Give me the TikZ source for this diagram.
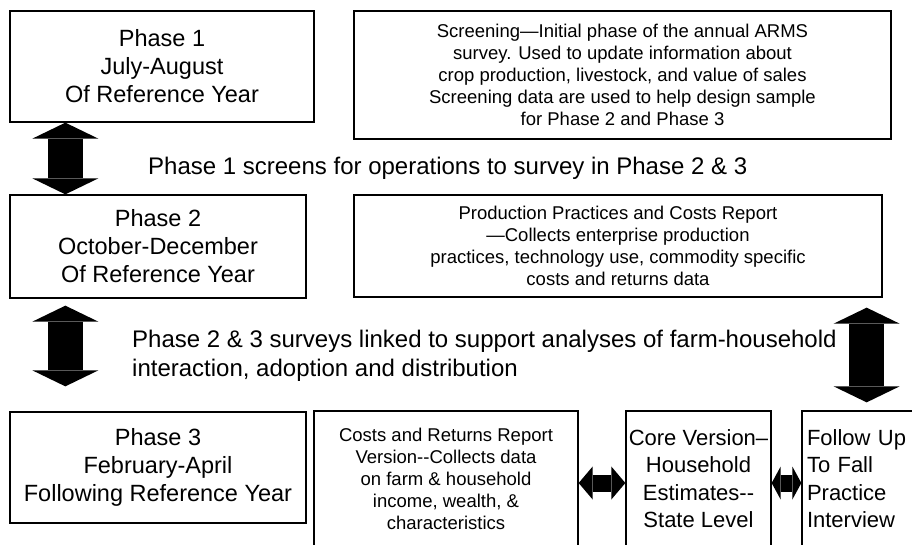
\documentclass[tikz,border=0pt]{standalone}
\usepackage{fontspec}
\setmainfont{Liberation Sans}
\usetikzlibrary{arrows.meta,calc}
\begin{document}
\begin{tikzpicture}[x=1pt,y=-1pt,
    phasebox/.style={draw,line width=1.3pt,align=center,inner sep=0pt,font=\fontsize{23.5}{28}\selectfont},
    notebox/.style={draw,line width=1.3pt,align=center,inner sep=0pt,font=\fontsize{18.5}{22}\selectfont},
    bigbox/.style={draw,line width=1.3pt,inner sep=0pt,font=\fontsize{22}{27.5}\selectfont},
    caption/.style={anchor=west,align=left,inner sep=0pt,font=\fontsize{24}{29}\selectfont},
    vlink/.style={line width=35pt,{Triangle[length=16pt,width=66pt,line width=0pt]}-{Triangle[length=16pt,width=66pt,line width=0pt]}},
    hlink/.style={line width=17pt,{Triangle[length=#1,width=33pt,line width=0pt]}-{Triangle[length=#1,width=33pt,line width=0pt]}},
  ]
  \clip (0,0) rectangle (912,544);
  \node[phasebox,minimum width=304pt,minimum height=111pt] (P1) at (162,66.5) {Phase 1\\July-August\\Of Reference Year};
  \node[notebox,minimum width=537pt,minimum height=128pt] (SC) at (622.5,75) {Screening—Initial phase of the annual ARMS\\survey. Used to update information about\\crop production, livestock, and value of sales\\Screening data are used to help design sample\\for Phase 2 and Phase 3};
  \node[phasebox,minimum width=296pt,minimum height=103pt] (P2) at (158,246.5) {Phase 2\\October-December\\Of Reference Year};
  \node[notebox,minimum width=528pt,minimum height=102pt] (PPC) at (618,246) {Production Practices and Costs Report\\—Collects enterprise production\\practices, technology use, commodity specific\\costs and returns data};
  \node[phasebox,minimum width=296pt,minimum height=111pt] (P3) at (158,467.5) {Phase 3\\February-April\\Following Reference Year};
  \node[notebox,minimum width=264pt,minimum height=135pt] (CR) at (446,478.5) {Costs and Returns Report\\Version-{}-Collects data\\on farm \& household\\income, wealth, \&\\characteristics};
  \node[bigbox,align=center,minimum width=145pt,minimum height=135pt] (CV) at (698.5,478.5) {Core Version–\\Household\\Estimates-{}-\\State Level};
  \node[bigbox,align=left,inner xsep=5pt,text width=130pt,minimum height=135pt] (FU) at (872,478.5) {Follow Up\\To Fall\\Practice\\Interview};
  \node[caption] (T1) at (148,168) {Phase 1 screens for operations to survey in Phase 2 \& 3};
  \node[caption] (T2) at (132,356) {Phase 2 \& 3 surveys linked to support analyses of farm-household\\interaction, adoption and distribution};
  \draw[vlink] ($(P1.south west)+(56,0)$) -- ($(P2.north west)+(56,0)$);
  \draw[vlink,shorten <=7pt,shorten >=25pt] ($(P2.south west)+(56,0)$) -- ($(P3.north west)+(56,0)$);
  \coordinate (R) at ($(PPC.south east)+(-16,0)$);
  \draw[vlink,shorten <=10pt,shorten >=8pt] (R) -- (R |- FU.north);
  \draw[hlink=14pt] ([yshift=-4.5pt]CR.east) -- ([yshift=-4.5pt]CV.west);
  \draw[hlink=9pt] ([yshift=-4.5pt]CV.east) -- ([yshift=-4.5pt]FU.west);
\end{tikzpicture}
\end{document}
